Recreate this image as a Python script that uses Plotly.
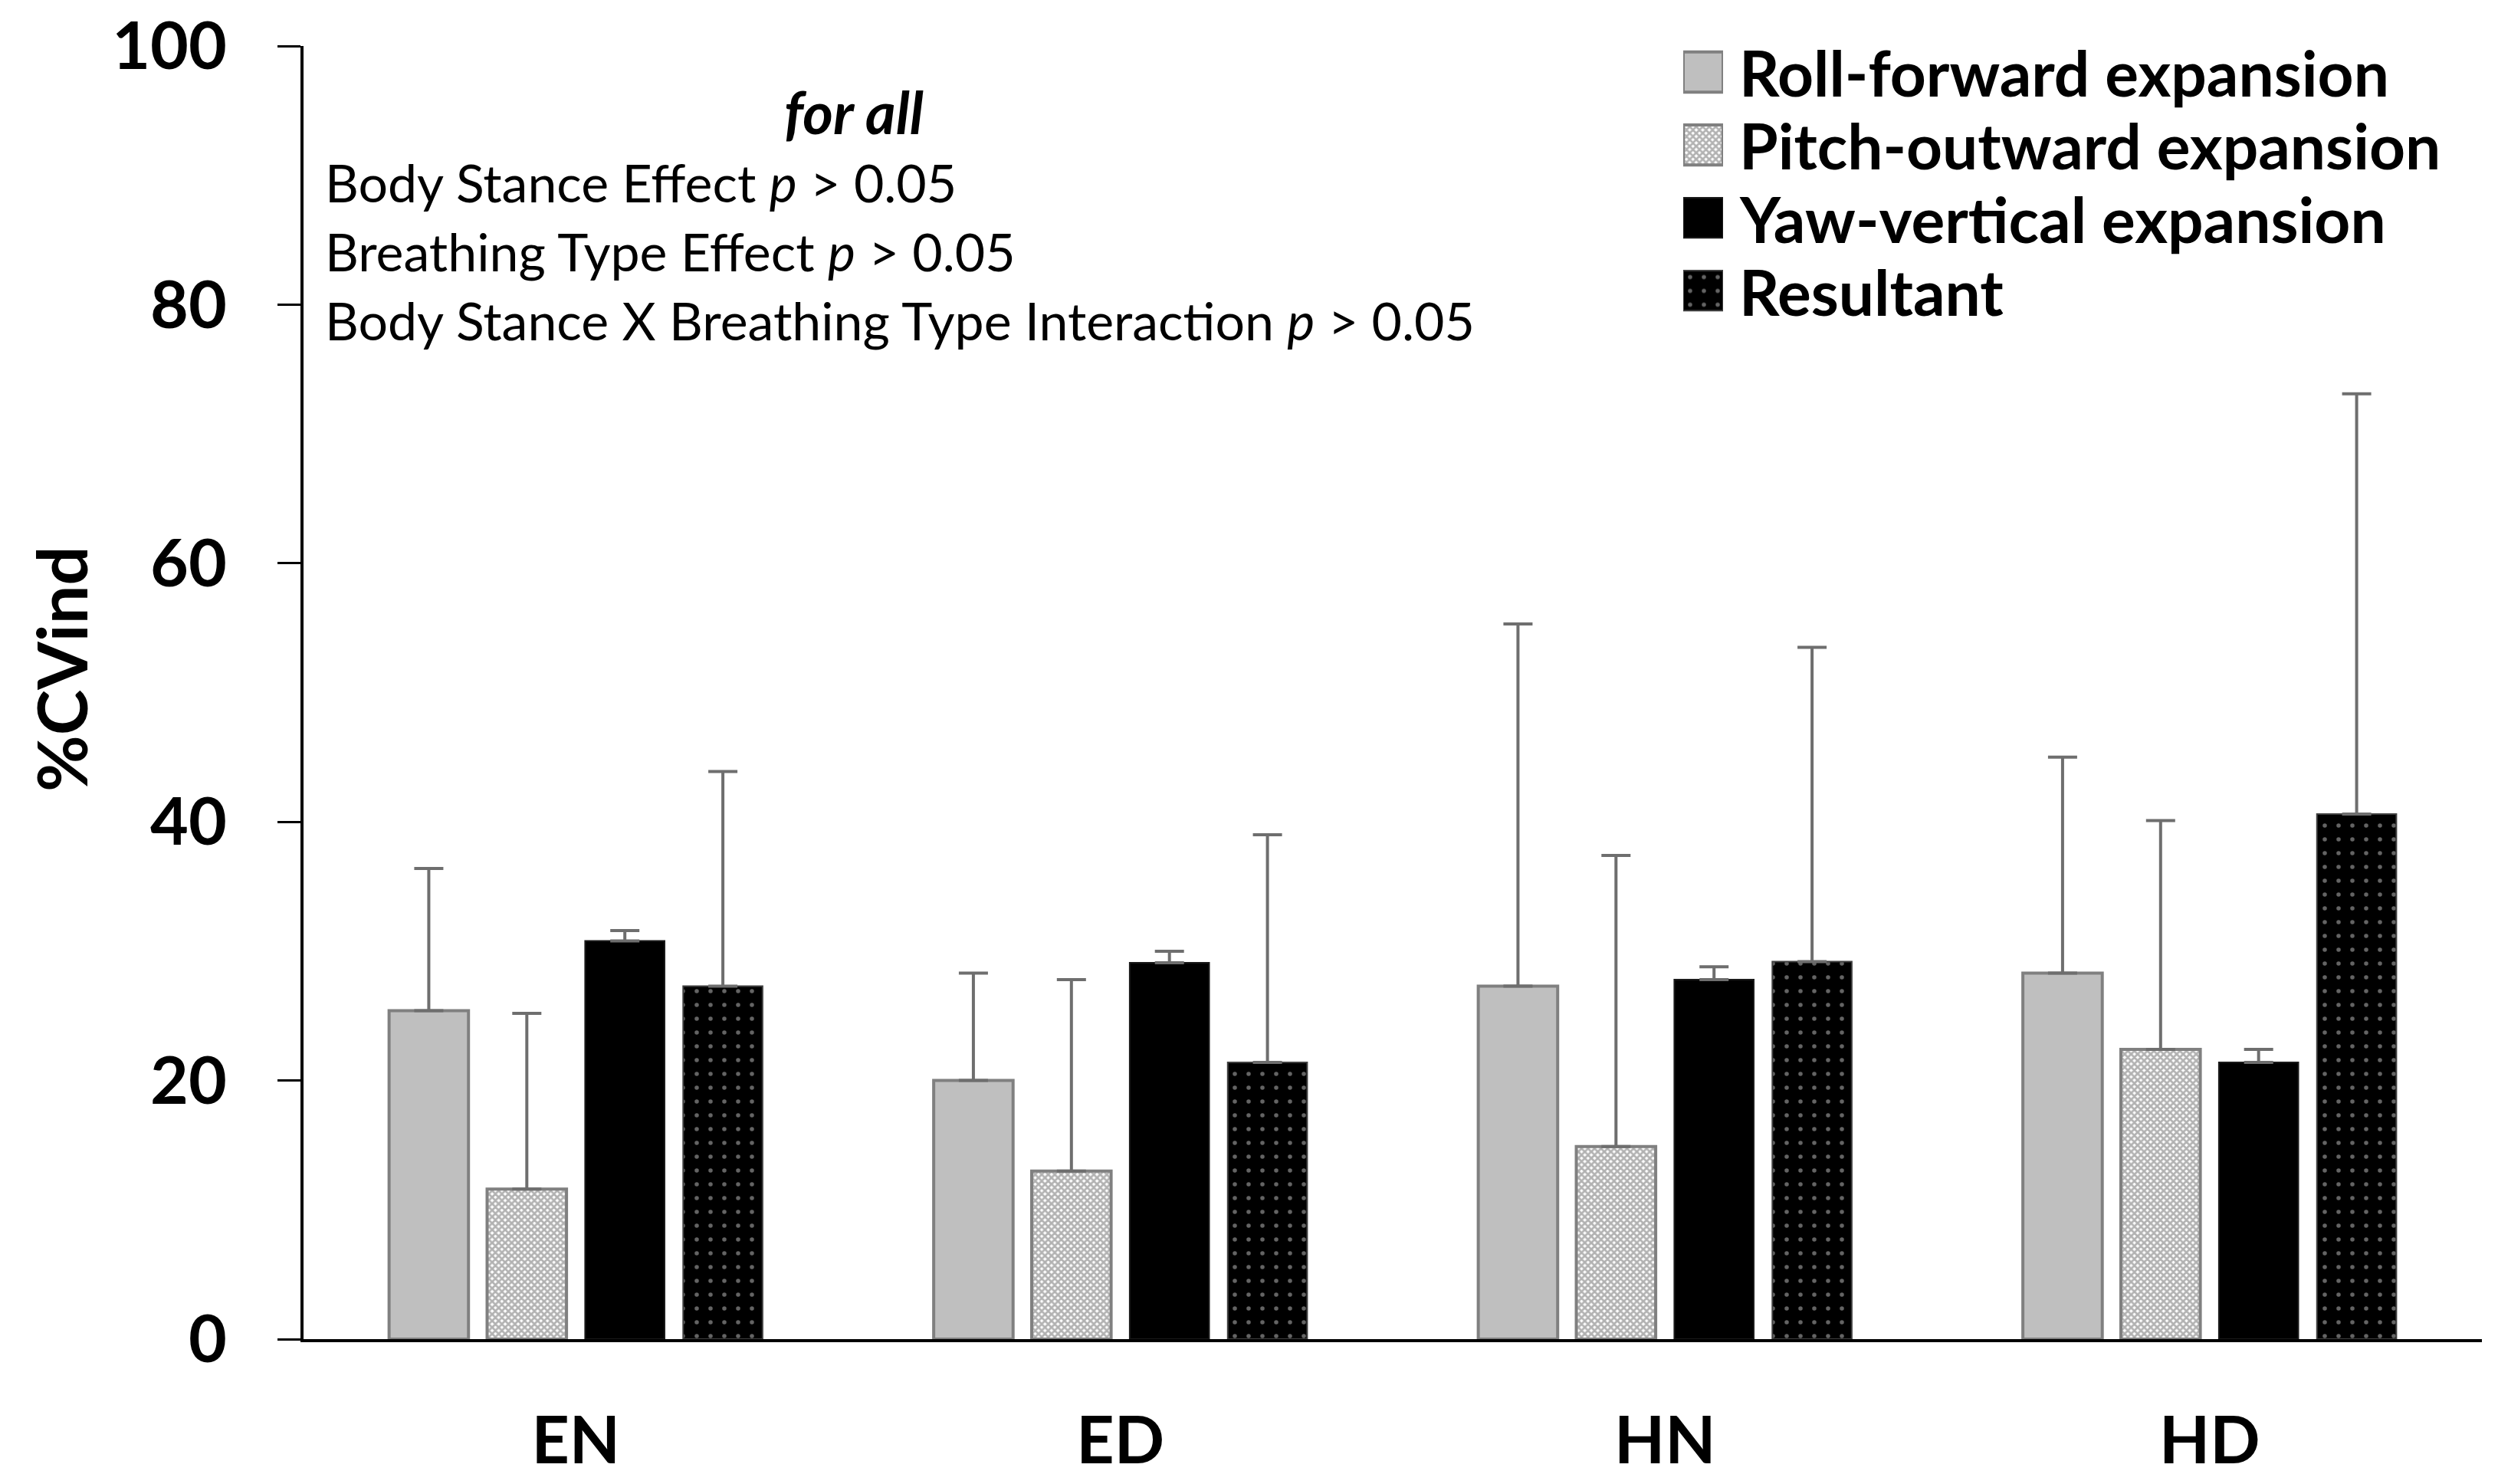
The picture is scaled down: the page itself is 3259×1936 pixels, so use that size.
import plotly.graph_objects as go

categories = ["EN", "ED", "HN", "HD"]
series_names = ["Roll-forward expansion", "Pitch-outward expansion",
                "Yaw-vertical expansion", "Resultant"]
roll_mean = [25.4, 20.0, 27.3, 28.3]
roll_sd = [11.0, 8.3, 28.0, 16.7]
pitch_mean = [11.6, 13.0, 14.9, 22.4]
pitch_sd = [13.6, 14.8, 22.5, 17.7]
yaw_mean = [30.8, 29.1, 27.8, 21.4]
yaw_sd = [0.8, 0.9, 1.0, 1.0]
res_mean = [27.3, 21.4, 29.2, 40.6]
res_sd = [16.6, 17.6, 24.3, 32.5]
y_ticks = [0, 20, 40, 60, 80, 100]
stats_lines = ["Body Stance Effect <i>p</i> > 0.05",
               "Breathing Type Effect <i>p</i> > 0.05",
               "Body Stance X Breathing Type Interaction <i>p</i> > 0.05"]

FONT = "Lato"
W, H = 3259, 1936      # page size
BODY = 8               # default page body margin
# plot area in page pixels
PX0, PX1 = 396, 3238
Y0 = 1747      # page row of value 0
YTOP = 60      # page row of value 100
PY_TOP = 30    # page row of top of plotting region (legend area)

FW, FH = W - 2 * BODY, H - 2 * BODY
ML = PX0 - BODY
MR = FW - (PX1 - BODY)
MT = PY_TOP - BODY
MB = FH - (Y0 - BODY)
PH = Y0 - PY_TOP
PW = PX1 - PX0

styles = [
    dict(color="#bfbfbf", line=dict(color="#808080", width=4)),
    dict(color="white", line=dict(color="#808080", width=4),
         pattern=dict(shape="x", size=6, solidity=0.7, fgcolor="#666666",
                      bgcolor="white", fillmode="overlay")),
    dict(color="black", line=dict(color="#1a1a1a", width=2)),
    dict(color="black", line=dict(color="#404040", width=2),
         pattern=dict(shape=".", size=18, solidity=0.075, fgcolor="#c8c8c8",
                      bgcolor="black", fillmode="overlay")),
]
means = [roll_mean, pitch_mean, yaw_mean, res_mean]
sds = [roll_sd, pitch_sd, yaw_sd, res_sd]

fig = go.Figure()
for name, m, s, st in zip(series_names, means, sds, styles):
    fig.add_trace(go.Bar(
        x=categories, y=m, name=name, marker=st, showlegend=False,
        error_y=dict(type="data", array=s, arrayminus=[0] * len(s),
                     symmetric=False, color="#6e6e6e", thickness=4, width=19),
    ))

# legend swatches drawn as small bars on a hidden helper axis
for name, st in zip(series_names, styles):
    fig.add_trace(go.Bar(
        x=[1], y=[name], orientation="h", marker=st, width=0.55,
        offset=-0.275, xaxis="x2", yaxis="y2", showlegend=False,
        hoverinfo="skip",
    ))

def px_to_paper_x(px):
    return (px - PX0) / PW

def px_to_paper_y(py):
    return (Y0 - py) / PH

annotations = []
annotations.append(dict(text="<b><i>for all</i></b>", xref="paper", yref="paper",
                        x=px_to_paper_x(1114), y=px_to_paper_y(145),
                        xanchor="center", yanchor="middle", showarrow=False,
                        font=dict(family=FONT, size=76, color="black")))
for i, (line, py) in enumerate(zip(stats_lines, [237, 328, 418])):
    annotations.append(dict(text=line, xref="paper", yref="paper",
                            x=px_to_paper_x(422), y=px_to_paper_y(py),
                            xanchor="left", yanchor="middle", showarrow=False,
                            font=dict(family=FONT, size=68, color="black")))
for name, py in zip(series_names, [94, 189, 285, 380]):
    annotations.append(dict(text="<b>" + name + "</b>", xref="paper", yref="paper",
                            x=px_to_paper_x(2267), y=px_to_paper_y(py),
                            xanchor="left", yanchor="middle", showarrow=False,
                            font=dict(family=FONT, size=82, color="black")))
annotations.append(dict(text="<b>%CVind</b>", xref="paper", yref="paper",
                        x=px_to_paper_x(79), y=px_to_paper_y(873),
                        xanchor="center", yanchor="middle", textangle=-90,
                        showarrow=False,
                        font=dict(family=FONT, size=90, color="black")))

fig.update_layout(
    template="none",
    width=FW, height=FH,
    margin=dict(l=ML, r=MR, t=MT, b=MB, pad=0),
    paper_bgcolor="white", plot_bgcolor="white",
    barmode="group", bargap=0.28, bargroupgap=0.19,
    showlegend=False,
    annotations=annotations,
    xaxis=dict(type="category", categoryorder="array", categoryarray=categories,
               showline=True, linecolor="black", linewidth=4, ticks="",
               showgrid=False, zeroline=False, ticklabelstandoff=55,
               automargin=False, ticklabeloverflow="allow",
               tickfont=dict(family=FONT, size=86, color="black", weight="bold")),
    yaxis=dict(range=[0, 100], domain=[0, (Y0 - YTOP) / PH],
               tickvals=y_ticks, showline=True, linecolor="black", linewidth=4,
               ticks="outside", ticklen=30, tickwidth=3, tickcolor="black",
               showgrid=False, zeroline=False, ticklabelstandoff=49,
               automargin=False, ticklabeloverflow="allow",
               tickfont=dict(family=FONT, size=86, color="black", weight="bold")),
    xaxis2=dict(domain=[px_to_paper_x(2196), px_to_paper_x(2248)], range=[0, 1],
                visible=False, anchor="y2", fixedrange=True, automargin=False),
    yaxis2=dict(domain=[px_to_paper_y(94 + 3.5 * 95), px_to_paper_y(94 - 0.5 * 95)],
                type="category", categoryorder="array", categoryarray=series_names,
                autorange="reversed", visible=False, anchor="x2", fixedrange=True,
                automargin=False),
)

fig.write_html("out.html")
